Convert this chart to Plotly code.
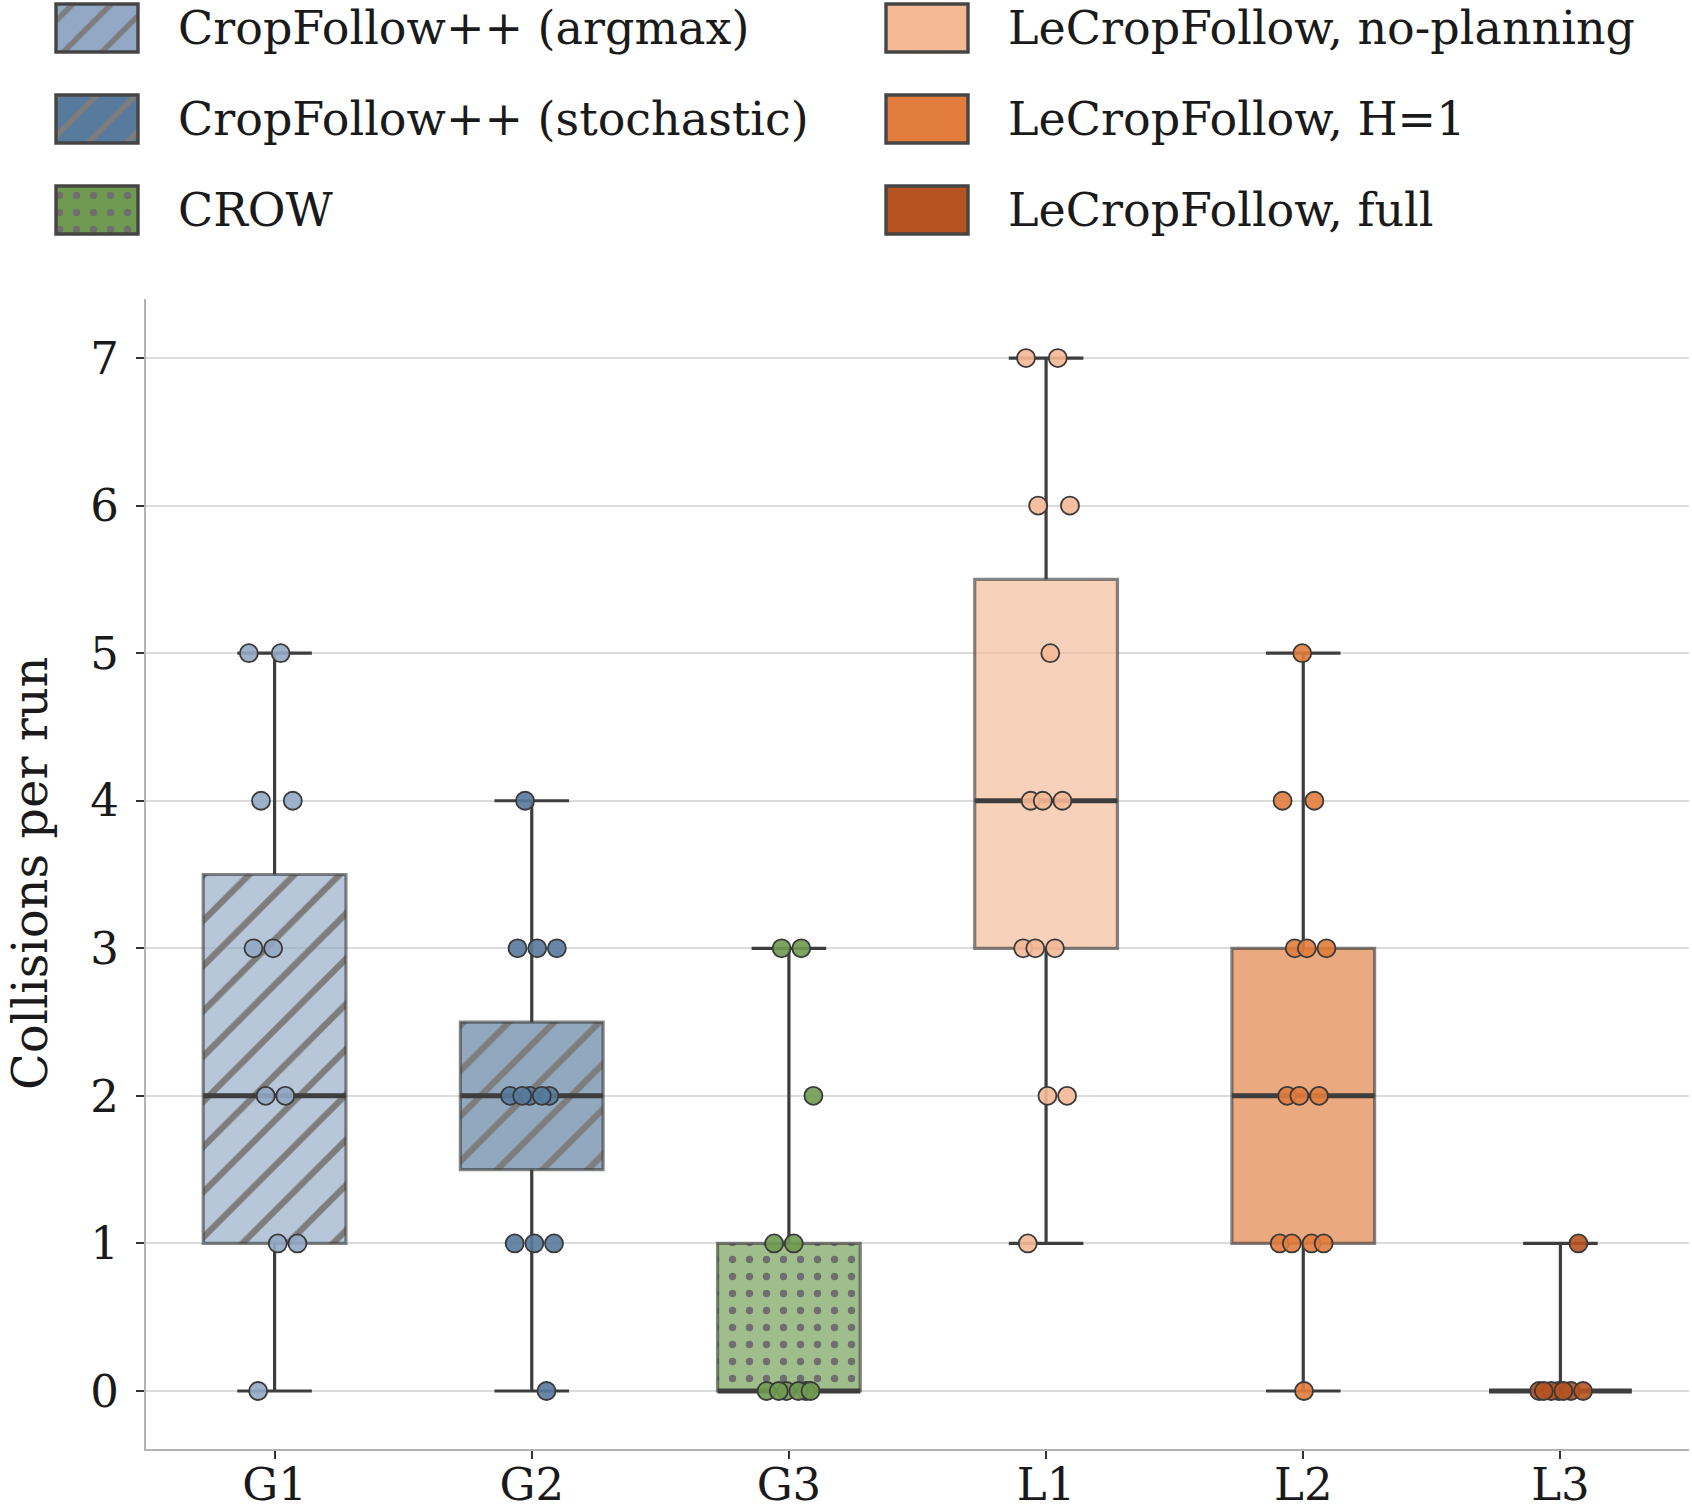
import plotly.graph_objects as go

# ---------------- data ----------------
categories = ["G1", "G2", "G3", "L1", "L2", "L3"]
series_names = [
    "CropFollow++ (argmax)",
    "CropFollow++ (stochastic)",
    "CROW",
    "LeCropFollow, no-planning",
    "LeCropFollow, H=1",
    "LeCropFollow, full",
]
runs_G1 = [5, 5, 4, 4, 3, 3, 2, 2, 1, 1, 0]
runs_G2 = [4, 3, 3, 3, 2, 2, 2, 2, 2, 1, 1, 1, 0]
runs_G3 = [3, 3, 2, 1, 1, 0, 0, 0, 0, 0, 0]
runs_L1 = [7, 7, 6, 6, 5, 4, 4, 4, 3, 3, 3, 2, 2, 1]
runs_L2 = [5, 4, 4, 3, 3, 3, 2, 2, 2, 1, 1, 1, 1, 0]
runs_L3 = [1, 0, 0, 0, 0, 0, 0, 0]
box_q1 = [1, 1.5, 0, 3, 1, 0]
box_median = [2, 2, 0, 4, 2, 0]
box_q3 = [3.5, 2.5, 1, 5.5, 3, 0]
y_ticks = [0, 1, 2, 3, 4, 5, 6, 7]
y_title = "Collisions per run"

runs = [runs_G1, runs_G2, runs_G3, runs_L1, runs_L2, runs_L3]

# ---------------- style ----------------
base_rgb = [(146, 168, 196), (88, 122, 156), (111, 154, 80),
            (245, 185, 150), (225, 124, 60), (182, 84, 33)]
patterns = ["/", "/", ".", "", "", ""]
FONT = "DejaVu Serif"
TXT = "#1a1a1a"
FS = 45
W, H = 1692, 1512
PL, PR, PT, PB = 146, 1689, 299, 1449
BOX_W = 0.555
CAP_HALF = 0.145
JIT = 0.1
DARK = "#3d3d3d"


def rgba(c, a):
    return "rgba(%d,%d,%d,%.3f)" % (c[0], c[1], c[2], a)


def pat(shape, size_scale=1.0):
    if shape == "/":
        return dict(shape="/", fgcolor="#7d7d7d", fgopacity=1, size=32 * size_scale,
                    solidity=0.2, fillmode="overlay")
    if shape == ".":
        return dict(shape=".", fgcolor="#6f6f6f", fgopacity=1, size=17,
                    solidity=0.15, fillmode="overlay")
    return dict(shape="")


fig = go.Figure()

# boxes (fill + outline)
for i, cat in enumerate(categories):
    fig.add_trace(go.Bar(
        x=[i], base=[box_q1[i]], y=[box_q3[i] - box_q1[i]], width=BOX_W,
        marker=dict(color=rgba(base_rgb[i], 0.66),
                    line=dict(color="rgba(60,60,60,0.62)", width=3.2),
                    pattern=pat(patterns[i])),
        showlegend=False, hoverinfo="skip", xaxis="x", yaxis="y"))

# whiskers and caps
for i, cat in enumerate(categories):
    lo, hi = min(runs[i]), max(runs[i])
    xs = [i, i, None, i, i, None,
          i - CAP_HALF, i + CAP_HALF, None, i - CAP_HALF, i + CAP_HALF]
    ys = [lo, box_q1[i], None, box_q3[i], hi, None, lo, lo, None, hi, hi]
    fig.add_trace(go.Scatter(x=xs, y=ys, mode="lines",
                             line=dict(color=DARK, width=3.2),
                             showlegend=False, hoverinfo="skip"))
    fig.add_trace(go.Scatter(x=[i - BOX_W / 2, i + BOX_W / 2],
                             y=[box_median[i], box_median[i]], mode="lines",
                             line=dict(color=DARK, width=5),
                             showlegend=False, hoverinfo="skip"))

# individual runs (deterministic strip jitter)
GOLD = 0.6180339887
for i, cat in enumerate(categories):
    n = len(runs[i])
    offs = [((k * GOLD + 0.37 * i) % 1.0 - 0.5) * 2 * JIT for k in range(n)]
    fig.add_trace(go.Scatter(
        x=[i + o for o in offs], y=runs[i], mode="markers",
        marker=dict(size=18, color=rgba(base_rgb[i], 0.9),
                    line=dict(color="#3a3a3a", width=1.8)),
        showlegend=False, name=series_names[i]))

# ---------------- custom legend (large patches) ----------------
LEG_H = 240
leg_cols_x = [97, 927]
leg_text_x = [176, 1006]
leg_rows_top = [4, 95, 186]
PATCH_W, PATCH_H = 82, 48
for i, name in enumerate(series_names):
    col, row = i // 3, i % 3
    fig.add_trace(go.Bar(
        x=[leg_cols_x[col]], base=[leg_rows_top[row]], y=[PATCH_H], width=PATCH_W,
        marker=dict(color=rgba(base_rgb[i], 1.0),
                    line=dict(color="#454545", width=3.4),
                    pattern=pat(patterns[i], 0.85)),
        showlegend=False, hoverinfo="skip", xaxis="x2", yaxis="y2"))
    fig.add_annotation(x=leg_text_x[col], y=leg_rows_top[row] + PATCH_H / 2,
                       xref="x2", yref="y2", text=name, showarrow=False,
                       xanchor="left", yanchor="middle",
                       font=dict(family=FONT, size=FS + 1, color=TXT))

fig.add_annotation(x=30 / W, y=1 - ((PT + PB) / 2) / H, xref="paper", yref="paper",
                   text=y_title, textangle=-90, showarrow=False,
                   xanchor="center", yanchor="middle",
                   font=dict(family=FONT, size=48, color=TXT))

ax_common = dict(showline=True, linecolor="#b3b3b3", linewidth=2.2,
                 ticks="outside", ticklen=8, tickwidth=2, tickcolor="#333333",
                 zeroline=False, automargin=False,
                 tickfont=dict(family=FONT, size=FS, color=TXT))

fig.update_layout(
    width=W, height=H,
    margin=dict(l=0, r=0, t=0, b=0),
    paper_bgcolor="white", plot_bgcolor="white",
    barmode="overlay", showlegend=False,
    font=dict(family=FONT, size=FS, color=TXT),
    xaxis=dict(domain=[PL / W, PR / W], range=[-0.5, 5.5],
               tickvals=list(range(len(categories))), ticktext=categories,
               showgrid=False, anchor="y", ticklabelstandoff=-13, **ax_common),
    yaxis=dict(domain=[1 - PB / H, 1 - PT / H], range=[-0.393, 7.40],
               tickvals=y_ticks, showgrid=True, gridcolor="#dcdcdc",
               gridwidth=1.6, anchor="x", ticklabelstandoff=8, **ax_common),
    xaxis2=dict(domain=[0, 1], range=[0, W], visible=False, anchor="y2",
                fixedrange=True),
    yaxis2=dict(domain=[1 - LEG_H / H, 1], range=[LEG_H, 0], visible=False,
                anchor="x2", fixedrange=True),
)

fig.write_html("out.html")
